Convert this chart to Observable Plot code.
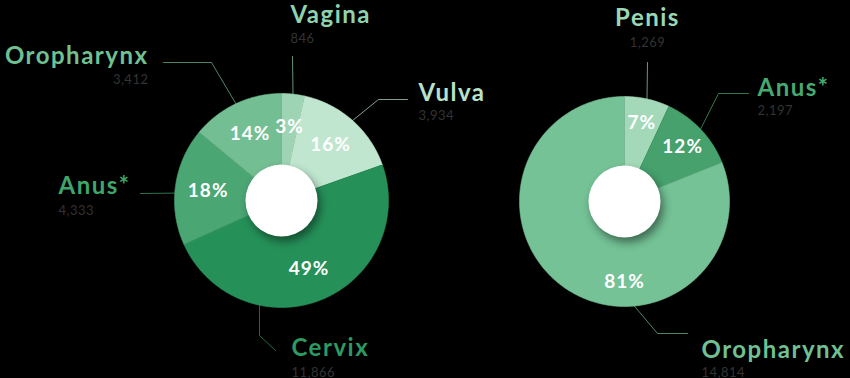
<!DOCTYPE html>
<html>
<head>
<meta charset="utf-8">
<script src="https://cdn.jsdelivr.net/npm/d3@7"></script>
<script src="https://cdn.jsdelivr.net/npm/@observablehq/plot@0.6"></script>
<style>
  html, body { margin: 0; padding: 0; background: #000; }
  #chart { width: 850px; height: 378px; overflow: hidden; }
</style>
</head>
<body>
<div id="chart"></div>
<script>
// HPV-associated cancer cases by site
const femaleSites = ["Vagina", "Vulva", "Cervix", "Anus*", "Oropharynx"];
const femaleCases = [846, 3934, 11866, 4333, 3412];

const maleSites = ["Penis", "Anus*", "Oropharynx"];
const maleCases = [1269, 2197, 14814];

// Slice and label colours, per pie
const femaleFill = ["#9dd5b4", "#c0e6cf", "#259159", "#4aa673", "#74be93"];
const femaleText = ["#8fd3ad", "#b8e3ca", "#2c9a62", "#3fa66b", "#70c092"];
const maleFill = ["#a3d9b9", "#46a16d", "#74c296"];
const maleText = ["#9ad7b4", "#46a96f", "#70c092"];

// Pie geometry (pixels)
const pies = [
  { group: "female", sites: femaleSites, cases: femaleCases, fills: femaleFill, texts: femaleText,
    cx: 281, cy: 200, R: 107, labelR: 74 },
  { group: "male", sites: maleSites, cases: maleCases, fills: maleFill, texts: maleText,
    cx: 624, cy: 201, R: 105, labelR: 80 }
];
const holeRadius = 36;

// Callout placement: name anchor/baseline, number baseline, leader bends
const callouts = {
  "female:Vagina":     { anchor: "start",  x: 290, y: 22,  ny: 42,  leader: [[292, 56]] },
  "female:Vulva":      { anchor: "start",  x: 418, y: 100, ny: 119, leader: [[378, 99], [407, 99]] },
  "female:Cervix":     { anchor: "start",  x: 291, y: 355, ny: 376, rim: 192, leader: [[259, 335], [275, 350]] },
  "female:Anus*":      { anchor: "start",  x: 58,  y: 193, ny: 214, rim: 274, leader: [[140, 193]] },
  "female:Oropharynx": { anchor: "end",    x: 148, y: 63,  ny: 83,  leader: [[211, 62], [163, 62]] },
  "male:Penis":        { anchor: "middle", x: 647, y: 25,  ny: 46,  leader: [[647, 62]] },
  "male:Anus*":        { anchor: "start",  x: 757, y: 95,  ny: 114, leader: [[718, 93], [748, 93]] },
  "male:Oropharynx":   { anchor: "start",  x: 701, y: 357, ny: 376, rim: 175, leader: [[657, 333], [687, 333]] }
};

const fmt = d3.format(",");
const rad = (deg) => deg * Math.PI / 180;
const polar = (p, r, a) => [p.cx + r * Math.sin(a), p.cy - r * Math.cos(a)];

const wedgePts = [];
const leaderPts = [];
const pctLabels = [];
const names = [];

for (const p of pies) {
  const rows = p.sites.map((s, i) => ({ site: s, cases: p.cases[i], fill: p.fills[i], text: p.texts[i] }));
  const total = d3.sum(rows, d => d.cases);
  const arcs = d3.pie().sort(null).value(d => d.cases)(rows);
  for (const a of arcs) {
    const d = a.data;
    const key = `${p.group}:${d.site}`;
    // wedge polygon: centre + outer arc
    wedgePts.push({ key, x: p.cx, y: p.cy, fill: d.fill });
    const steps = Math.max(2, Math.ceil((a.endAngle - a.startAngle) / rad(0.5)));
    for (let k = 0; k <= steps; ++k) {
      const t = a.startAngle + (a.endAngle - a.startAngle) * k / steps;
      const [x, y] = polar(p, p.R, t);
      wedgePts.push({ key, x, y, fill: d.fill });
    }
    // percentage label
    const share = d.cases / total;
    const mid = share > 0.5 ? Math.PI : (a.startAngle + a.endAngle) / 2;
    const [lx, ly] = polar(p, p.labelR, mid);
    pctLabels.push({ x: lx, y: ly, text: `${Math.round(share * 100)}%` });
    // leader line and callout text
    const c = callouts[key];
    const rimAngle = c.rim != null ? rad(c.rim) : (a.startAngle + a.endAngle) / 2;
    const [rx, ry] = polar(p, p.R - 1, rimAngle);
    leaderPts.push({ key, x: rx, y: ry, stroke: d.text });
    for (const [x, y] of c.leader) leaderPts.push({ key, x, y, stroke: d.text });
    names.push({ anchor: c.anchor, x: c.x, y: c.y, ny: c.ny, name: d.site, value: fmt(d.cases), color: d.text });
  }
}

const nameMarks = ["start", "end", "middle"].flatMap(anchor => [
  Plot.text(names, {
    filter: d => d.anchor === anchor, x: "x", y: "y", text: "name", fill: "color",
    textAnchor: anchor, lineAnchor: "bottom", fontSize: 24, fontWeight: 700, ariaDescription: "site name"
  }),
  Plot.text(names, {
    filter: d => d.anchor === anchor, x: "x", y: "ny", text: "value", fill: "#333",
    textAnchor: anchor, lineAnchor: "bottom", fontSize: 13, fontWeight: 400, ariaDescription: "case count"
  })
]);

const chart = Plot.plot({
  width: 850,
  height: 378,
  margin: 0,
  x: { domain: [0, 850], range: [0, 850], axis: null },
  y: { domain: [0, 378], range: [0, 378], axis: null },
  color: { type: "identity" },
  style: { background: "#000", fontFamily: "Lato, 'Open Sans', sans-serif", overflow: "visible" },
  marks: [
    Plot.line(wedgePts, { x: "x", y: "y", z: "key", fill: "fill", stroke: "fill", strokeWidth: 0.6, curve: "linear" }),
    Plot.line(leaderPts, { x: "x", y: "y", z: "key", stroke: "stroke", strokeWidth: 1, strokeOpacity: 0.7, curve: "linear" }),
    Plot.dot(pies, { x: "cx", y: "cy", r: holeRadius, fill: "#fff", ariaDescription: "hole" }),
    Plot.text(pctLabels, { x: "x", y: "y", text: "text", fill: "#fff", fontSize: 19, fontWeight: 700, ariaDescription: "share" }),
    ...nameMarks
  ]
});

// Finishing touches on the mark groups: shadow under the hole, wider tracking on text
const svg = d3.select(chart);
svg.selectAll('g[aria-description="hole"]').style("filter", "drop-shadow(3px 5px 4px rgba(0,0,0,0.45))");
svg.selectAll('g[aria-description="site name"]').style("letter-spacing", "1.5px");
svg.selectAll('g[aria-description="share"]').style("letter-spacing", "1px");
svg.selectAll('g[aria-description="case count"]').style("letter-spacing", "0.5px");

document.getElementById("chart").appendChild(chart);
</script>
</body>
</html>
